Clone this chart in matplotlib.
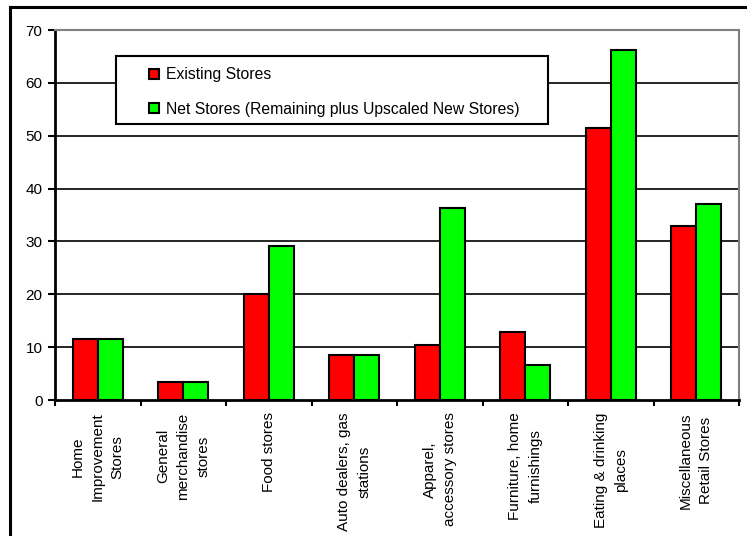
import matplotlib
matplotlib.use("Agg")
import matplotlib.pyplot as plt
import numpy as np
from matplotlib.lines import Line2D
from matplotlib.patches import Rectangle

plt.rcParams["font.family"] = ["Liberation Sans", "DejaVu Sans"]

categories = ["Home\nImprovement\nStores", "General\nmerchandise\nstores", "Food stores",
              "Auto dealers, gas\nstations", "Apparel,\naccessory stores",
              "Furniture, home\nfurnishings", "Eating & drinking\nplaces",
              "Miscellaneous\nRetail Stores"]
existing = [11.6, 3.4, 20.0, 8.6, 10.5, 12.9, 51.4, 33.0]
net = [11.6, 3.4, 29.1, 8.6, 36.3, 6.7, 66.2, 37.0]
series_labels = ["Existing Stores", "Net Stores (Remaining plus Upscaled New Stores)"]
yticks = [0, 10, 20, 30, 40, 50, 60, 70]

fig = plt.figure(figsize=(7.47, 5.36), dpi=100)
fig.patch.set_facecolor("white")
W, H = 747, 536
AX_L, AX_T, AX_R, AX_B = 55, 30, 739, 400
AW, AH = AX_R - AX_L, AX_B - AX_T
ax = fig.add_axes([AX_L / W, 1 - AX_B / H, AW / W, AH / H])

# outer chart-area frame (cut off at right and bottom)
fig.add_artist(Line2D([10 / W, 10 / W], [0, 1 - 7 / H], color="black", lw=2.2, transform=fig.transFigure))
fig.add_artist(Line2D([10 / W, 1.0], [1 - 7 / H, 1 - 7 / H], color="black", lw=2.2, transform=fig.transFigure))

x = np.arange(len(categories))
w = 0.29
ax.bar(x - w / 2, existing, w, color="#ff0000", edgecolor="black", lw=1.5, zorder=3, label=series_labels[0])
ax.bar(x + w / 2, net, w, color="#00ff00", edgecolor="black", lw=1.5, zorder=3, label=series_labels[1])

for yv in yticks[1:-1]:
    ax.axhline(yv, color="black", lw=1.2, zorder=1)

ax.set_xlim(-0.5, len(categories) - 0.5)
ax.set_ylim(0, 70)
ax.set_yticks(yticks)
ax.set_yticklabels([str(v) for v in yticks], fontsize=11)
ax.set_xticks(x)
ax.set_xticklabels(categories, rotation=90, fontsize=11, ha="center", va="top",
                   multialignment="center", linespacing=1.55)
ax.set_xticks(np.arange(-0.5, len(categories)), minor=True)
ax.tick_params(axis="x", which="major", length=0, pad=9)
ax.tick_params(axis="x", which="minor", length=4, width=1.5, direction="out")
ax.tick_params(axis="y", length=5, width=1.5, direction="out", pad=4)

ax.spines["left"].set_linewidth(2)
ax.spines["bottom"].set_linewidth(2)
ax.spines["top"].set_color("#808080")
ax.spines["right"].set_color("#808080")
ax.spines["top"].set_linewidth(1.5)
ax.spines["right"].set_linewidth(1.5)

# legend box drawn separately so the entries can sit inset from its left edge
ax.add_patch(Rectangle(((116 - AX_L) / AW, (AX_B - 124) / AH), (548 - 116) / AW, (124 - 56) / AH,
                       transform=ax.transAxes, facecolor="white", edgecolor="black", lw=1.5, zorder=5))
leg = ax.legend(loc="upper left", bbox_to_anchor=((146 - AX_L) / AW, (AX_B - 64) / AH),
                fontsize=11.3, frameon=False, borderaxespad=0, borderpad=0.2,
                handlelength=0.6, handleheight=0.6, handletextpad=0.5, labelspacing=1.25)
leg.set_zorder(6)

fig.savefig("out.png", dpi=100)
